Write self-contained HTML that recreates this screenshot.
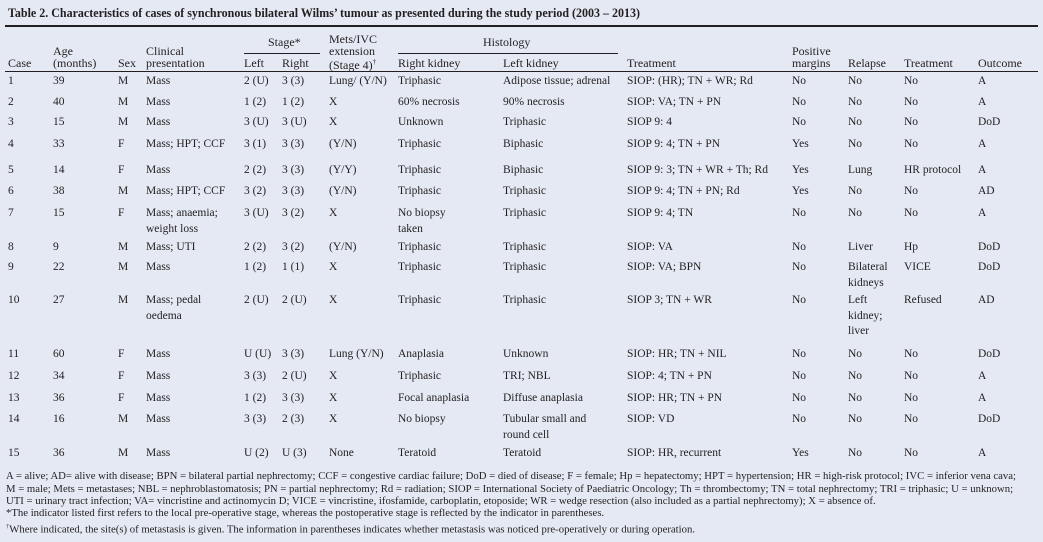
<!DOCTYPE html>
<html><head><meta charset="utf-8"><style>
html,body{margin:0;padding:0}
body{width:1043px;height:542px;background:#e4e9f3;position:relative;overflow:hidden;font-family:"Liberation Serif",serif;color:#231f20}
.t{position:absolute;white-space:nowrap;font-size:11.5px;line-height:15.5px}
.h{position:absolute;white-space:nowrap;font-size:12px;line-height:13px}
.rule{position:absolute;background:#231f20}
.fn{position:absolute;left:6px;white-space:nowrap;font-size:10px;line-height:12px;transform-origin:0 0}
</style></head><body>
<div class="h" id="title" style="left:8px;top:7px;font-weight:bold;font-size:12.5px;transform-origin:0 0">Table 2. Characteristics of cases of synchronous bilateral Wilms’ tumour as presented during the study period (2003 – 2013)</div>
<div class="rule" style="left:5px;top:25px;width:1033px;height:2px"></div>
<div class="rule" style="left:244px;top:53px;width:76px;height:1px"></div>
<div class="rule" style="left:398px;top:53px;width:220px;height:1px"></div>
<div class="rule" style="left:5px;top:71px;width:1033px;height:1px"></div>

<div class="h" style="left:8px;top:57px">Case</div>
<div class="h" style="left:53px;top:45px;line-height:12px">Age<br>(months)</div>
<div class="h" style="left:118px;top:57px">Sex</div>
<div class="h" style="left:146px;top:45px;line-height:12px">Clinical<br>presentation</div>
<div class="h" style="left:268px;top:36px">Stage*</div>
<div class="h" style="left:244px;top:57px">Left</div>
<div class="h" style="left:282px;top:57px">Right</div>
<div class="h" style="left:329px;top:34px;line-height:11.5px">Mets/IVC<br>extension<br>(Stage 4)<sup style="font-size:7px">†</sup></div>
<div class="h" style="left:483px;top:36px">Histology</div>
<div class="h" style="left:398px;top:57px">Right kidney</div>
<div class="h" style="left:503px;top:57px">Left kidney</div>
<div class="h" style="left:627px;top:57px">Treatment</div>
<div class="h" style="left:792px;top:45px;line-height:12px">Positive<br>margins</div>
<div class="h" style="left:848px;top:57px">Relapse</div>
<div class="h" style="left:904px;top:57px">Treatment</div>
<div class="h" style="left:978px;top:57px">Outcome</div>

<div class="fn" id="fn1" style="top:471px">A = alive; AD= alive with disease; BPN = bilateral partial nephrectomy; CCF = congestive cardiac failure; DoD = died of disease; F = female; Hp = hepatectomy; HPT = hypertension; HR = high-risk protocol; IVC = inferior vena cava;</div>
<div class="fn" style="top:484px">M = male; Mets = metastases; NBL = nephroblastomatosis; PN = partial nephrectomy; Rd = radiation; SIOP = International Society of Paediatric Oncology; Th = thrombectomy; TN = total nephrectomy; TRI = triphasic; U = unknown;</div>
<div class="fn" style="top:496px">UTI = urinary tract infection; VA= vincristine and actinomycin D; VICE = vincristine, ifosfamide, carboplatin, etoposide; WR = wedge resection (also included as a partial nephrectomy); X = absence of.</div>
<div class="fn" style="top:508px">*The indicator listed first refers to the local pre-operative stage, whereas the postoperative stage is reflected by the indicator in parentheses.</div>
<div class="fn" style="top:521px"><sup style="font-size:6px">†</sup>Where indicated, the site(s) of metastasis is given. The information in parentheses indicates whether metastasis was noticed pre-operatively or during operation.</div>

<script>
const colNames = ['case','age','sex','clinical','stage-left','stage-right','mets','right-kidney','left-kidney','treatment','positive-margins','relapse','relapse-treatment','outcome'];
const colX = [8,53,118,146,244,282,329,398,503,627,792,848,904,978];
const rowY = [82,103,123,145,171,192,214,248,268,301,355,377,399,420,454];
const rows = [
['1','39','M','Mass','2 (U)','3 (3)','Lung/ (Y/N)','Triphasic','Adipose tissue; adrenal','SIOP: (HR); TN + WR; Rd','No','No','No','A'],
['2','40','M','Mass','1 (2)','1 (2)','X','60% necrosis','90% necrosis','SIOP: VA; TN + PN','No','No','No','A'],
['3','15','M','Mass','3 (U)','3 (U)','X','Unknown','Triphasic','SIOP 9: 4','No','No','No','DoD'],
['4','33','F','Mass; HPT; CCF','3 (1)','3 (3)','(Y/N)','Triphasic','Biphasic','SIOP 9: 4; TN + PN','Yes','No','No','A'],
['5','14','F','Mass','2 (2)','3 (3)','(Y/Y)','Triphasic','Biphasic','SIOP 9: 3; TN + WR + Th; Rd','Yes','Lung','HR protocol','A'],
['6','38','M','Mass; HPT; CCF','3 (2)','3 (3)','(Y/N)','Triphasic','Triphasic','SIOP 9: 4; TN + PN; Rd','Yes','No','No','AD'],
['7','15','F','Mass; anaemia;|weight loss','3 (U)','3 (2)','X','No biopsy|taken','Triphasic','SIOP 9: 4; TN','No','No','No','A'],
['8','9','M','Mass; UTI','2 (2)','3 (2)','(Y/N)','Triphasic','Triphasic','SIOP: VA','No','Liver','Hp','DoD'],
['9','22','M','Mass','1 (2)','1 (1)','X','Triphasic','Triphasic','SIOP: VA; BPN','No','Bilateral|kidneys','VICE','DoD'],
['10','27','M','Mass; pedal|oedema','2 (U)','2 (U)','X','Triphasic','Triphasic','SIOP 3; TN + WR','No','Left|kidney;|liver','Refused','AD'],
['11','60','F','Mass','U (U)','3 (3)','Lung (Y/N)','Anaplasia','Unknown','SIOP: HR; TN + NIL','No','No','No','DoD'],
['12','34','F','Mass','3 (3)','2 (U)','X','Triphasic','TRI; NBL','SIOP: 4; TN + PN','No','No','No','A'],
['13','36','F','Mass','1 (2)','3 (3)','X','Focal anaplasia','Diffuse anaplasia','SIOP: HR; TN + PN','No','No','No','A'],
['14','16','M','Mass','3 (3)','2 (3)','X','No biopsy','Tubular small and|round cell','SIOP: VD','No','No','No','DoD'],
['15','36','M','Mass','U (2)','U (3)','None','Teratoid','Teratoid','SIOP: HR, recurrent','Yes','No','No','A']
];
rows.forEach(function(r,i){
  r.forEach(function(v,j){
    const d=document.createElement('div');
    d.className='t';
    
    
    d.style.left=colX[j]+'px';
    d.style.top=(rowY[i]-8)+'px';
    d.innerHTML=v.split('|').join('<br>');
    document.body.appendChild(d);
  });
});
(function(){
  const w=document.getElementById('fn1').getBoundingClientRect().width;
  const s=1010/w;
  document.querySelectorAll('.fn').forEach(function(el){el.style.transform='scaleX('+s+')';});
  const el=document.getElementById('title');
  const t=632/el.getBoundingClientRect().width;
  el.style.transform='scaleX('+t+')';
})();
</script>
</body></html>
